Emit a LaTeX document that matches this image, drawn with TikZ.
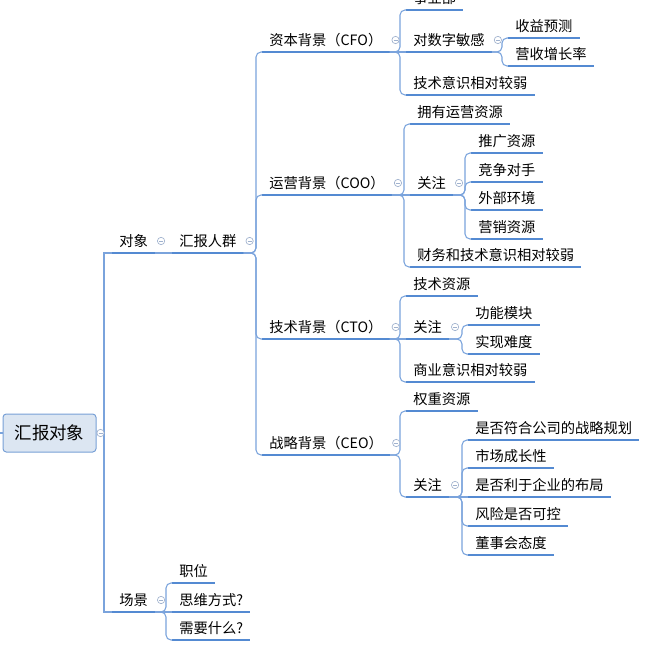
\documentclass[tikz,border=0pt]{standalone}
\usepackage{fontspec}
\setmainfont{Noto Sans CJK SC}
\usetikzlibrary{calc}
\definecolor{uline}{RGB}{84,138,210}
\definecolor{connc}{RGB}{122,163,220}
\definecolor{collc}{RGB}{160,178,206}
\definecolor{rootfill}{RGB}{220,230,242}
\definecolor{rootdraw}{RGB}{120,160,214}
\tikzset{
 txt/.style={inner xsep=5.25pt, inner ysep=0pt, anchor=base west, font=\fontsize{10.7}{13}\selectfont, text=black},
 ul/.style={draw=uline, line width=1.6pt},
 cn/.style={draw=connc, line width=0.8pt, rounded corners=3.75pt},
 coll/.style={circle, draw=collc, fill=white, line width=0.5pt, minimum size=5.5pt, inner sep=0pt,
   path picture={\draw[collc, line width=0.5pt] ([xshift=-1.5pt]path picture bounding box.center) -- ([xshift=1.5pt]path picture bounding box.center);}},
 rootbox/.style={draw=rootdraw, fill=rootfill, rounded corners=2.5pt, minimum width=69.75pt, minimum height=28.5pt, inner sep=0pt, line width=0.75pt, font=\fontsize{13.1}{15}\selectfont},
}
\newcommand\topic[4]{%
 \node[txt] (#1) at (#2,#3-6.5) {#4};
 \coordinate (#1-s) at (#2,#3);
 \coordinate (#1-e) at (#1.east |- #1-s);
 \draw[ul] (#1-s) -- (#1-e);
}
\newcommand\coll[1]{\node[coll] (#1-c) at ($(#1-e)+(6,-12)$) {};}
\newcommand\branch[3]{%
 \coordinate (bx-#1) at (#2,0);
 \foreach \ch in {#3} {\draw[cn] (#1-e) -- (bx-#1 |- #1-e) -- (bx-#1 |- \ch-s) -- (\ch-s);}
}
\newcommand\straight[2]{\draw[cn] (#1-e) -- (#2-s);}
\begin{document}
\begin{tikzpicture}[x=0.75pt,y=-0.75pt]
\useasboundingbox (0,0) rectangle (645,649);
\clip (0,0) rectangle (645,649);
% root
\node[rootbox] (root) at (49.5,433) {汇报对象};
% level 1
\topic{dx}{112}{253}{对象}
\topic{cj}{112}{612}{场景}
\topic{hb}{172}{253}{汇报人群}
% level 2
\topic{cfo}{262}{52}{资本背景（CFO）}
\topic{coo}{262}{195}{运营背景（COO）}
\topic{cto}{262}{339}{技术背景（CTO）}
\topic{ceo}{262}{455}{战略背景（CEO）}
% CFO
\topic{cfoa}{406}{10}{事业部}
\topic{cfob}{406}{52}{对数字敏感}
\topic{cfoc}{406}{95}{技术意识相对较弱}
\topic{cfoba}{508}{38}{收益预测}
\topic{cfobb}{508}{66}{营收增长率}
% COO
\topic{cooa}{410}{124}{拥有运营资源}
\topic{coob}{410}{195}{关注}
\topic{cooc}{410}{267}{财务和技术意识相对较弱}
\topic{cooba}{471}{153}{推广资源}
\topic{coobb}{471}{182}{竞争对手}
\topic{coobc}{471}{210}{外部环境}
\topic{coobd}{471}{239}{营销资源}
% CTO
\topic{ctoa}{406}{296}{技术资源}
\topic{ctob}{406}{339}{关注}
\topic{ctoc}{406}{382}{商业意识相对较弱}
\topic{ctoba}{468}{325}{功能模块}
\topic{ctobb}{468}{354}{实现难度}
% CEO
\topic{ceoa}{406}{411}{权重资源}
\topic{ceob}{406}{497}{关注}
\topic{ceoba}{468}{440}{是否符合公司的战略规划}
\topic{ceobb}{468}{468}{市场成长性}
\topic{ceobc}{468}{497}{是否利于企业的布局}
\topic{ceobd}{468}{526}{风险是否可控}
\topic{ceobe}{468}{555}{董事会态度}
% scene
\topic{cja}{172}{583}{职位}
\topic{cjb}{172}{612}{思维方式?}
\topic{cjc}{172}{640}{需要什么?}
% connectors
\coordinate (trunk) at (104,0);
\coordinate (lstub) at (0,433);
\draw[cn] (lstub) -- (root.west);
\draw[cn] (root.east) -- (trunk |- root.east);
\draw[cn, rounded corners=0pt] (dx-s) -- (trunk |- dx-s) -- (trunk |- cj-s) -- (cj-s);
\straight{dx}{hb}
\branch{hb}{256}{cfo,coo,cto,ceo}
\branch{cfo}{400}{cfoa,cfoc}
\straight{cfo}{cfob}
\branch{cfob}{502}{cfoba,cfobb}
\branch{coo}{404}{cooa,cooc}
\straight{coo}{coob}
\branch{coob}{465}{cooba,coobb,coobc,coobd}
\branch{cto}{400}{ctoa,ctoc}
\straight{cto}{ctob}
\branch{ctob}{462}{ctoba,ctobb}
\branch{ceo}{400}{ceoa,ceob}
\branch{ceob}{462}{ceoba,ceobb,ceobd,ceobe}
\straight{ceob}{ceobc}
\branch{cj}{166}{cja,cjc}
\straight{cj}{cjb}
% collapse markers
\node[coll] (root-c) at ($(root.east)+(4,0)$) {};
\coll{dx}\coll{cj}\coll{hb}
\coll{cfo}\coll{coo}\coll{cto}\coll{ceo}
\coll{cfob}\coll{coob}\coll{ctob}\coll{ceob}
\end{tikzpicture}
\end{document}
